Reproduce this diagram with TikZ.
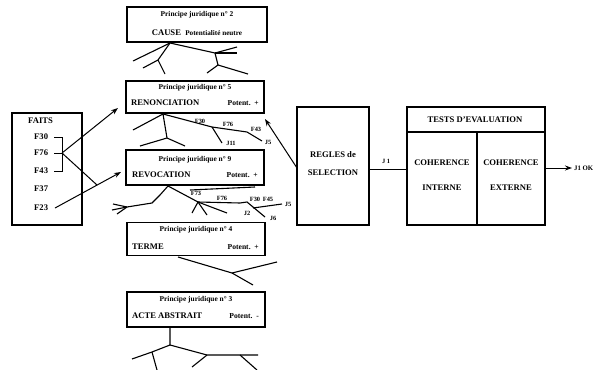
\documentclass[tikz,border=0pt]{standalone}
\usepackage{fontspec}
\setmainfont{Liberation Serif}
\usetikzlibrary{arrows.meta}
\begin{document}
\begin{tikzpicture}[x=1pt,y=-1pt,
 box/.style={draw,line width=1.1pt,inner sep=0pt},
 ttl/.style={font=\fontsize{7.4}{8}\selectfont\bfseries,inner sep=0pt},
 lab/.style={font=\fontsize{8.6}{9}\selectfont\bfseries,inner sep=0pt},
 pot/.style={font=\fontsize{7.6}{8}\selectfont\bfseries,inner sep=0pt},
 sm/.style={font=\fontsize{6.4}{7}\selectfont\bfseries,inner sep=0pt},
 br/.style={line width=1.1pt},
 arr/.style={line width=1pt,-{Stealth[length=7pt,width=5pt]}}]
\useasboundingbox (0,0) rectangle (598,370);

% ---- principle boxes
\node[box,minimum width=140pt,minimum height=35pt] (p2) at (197,24.5) {};
\node[ttl] (p2t) at (197,15) {Principe juridique n° 2};
\node[lab] (p2l) at (197,33) {CAUSE\ \ {\fontsize{7.2}{8}\selectfont Potentialité neutre}};

\node[box,minimum width=138pt,minimum height=32pt] (p5) at (195,97) {};
\node[ttl] (p5t) at (195,88) {Principe juridique n° 5};
\node[lab,anchor=west] (p5l) at (131,103) {RENONCIATION};
\node[pot,anchor=east] (p5r) at (259,103) {Potent.\ \ +};

\node[box,minimum width=138pt,minimum height=35pt] (p9) at (195,167.5) {};
\node[ttl] (p9t) at (195,160) {Principe juridique n° 9};
\node[lab,anchor=west] (p9l) at (132,175) {REVOCATION};
\node[pot,anchor=east] (p9r) at (258,175) {Potent.\ \ +};

\node[box,minimum width=138pt,minimum height=33pt] (p4) at (196,239) {};
\node[ttl] (p4t) at (196,230) {Principe juridique n° 4};
\node[lab,anchor=west] (p4l) at (132,247) {TERME};
\node[pot,anchor=east] (p4r) at (259,247) {Potent.\ \ +};

\node[box,minimum width=138pt,minimum height=35pt] (p3) at (196,309.5) {};
\node[ttl] (p3t) at (196,300) {Principe juridique n° 3};
\node[lab,anchor=west] (p3l) at (132,316) {ACTE ABSTRAIT};
\node[pot,anchor=east] (p3r) at (259,316) {Potent.\ \ -};

% ---- trees
% P2
\draw[br] (170,43) -- (133,61);
\draw[br] (170,43) -- (158,60) -- (143,68);
\draw[br] (158,60) -- (165,74);
\draw[br] (170,43) -- (215,53) -- (237,47);
\draw[br] (215,53) -- (237,53);
\draw[br] (215,53) -- (218,65) -- (207,73);
\draw[br] (218,65) -- (248,74);
% P5
\draw[br] (163,114) -- (133,130);
\draw[br] (163,114) -- (167,138) -- (140,146);
\draw[br] (167,138) -- (185,146);
\draw[br] (163,114) -- (212,127) -- (247,132) -- (262,141);
\draw[br] (212,127) -- (222,143);
\node[sm] (l530) at (200,121) {F30};
\node[sm] (l576) at (228,124.5) {F76};
\node[sm] (l543) at (256,129) {F43};
\node[sm] (l5j5) at (268,142) {J5};
\node[sm] (l5j11) at (231,143) {J11};
% P9
\draw[br] (190,190) -- (255,187);
\draw[br] (168,186) -- (160,195) -- (152,203) -- (127,207) -- (113,204);
\draw[br] (127,207) -- (112,210);
\draw[br] (127,207) -- (117,214);
\draw[br] (168,186) -- (198,202) -- (227,213);
\draw[br] (198,202) -- (192,213);
\draw[br] (198,202) -- (207,215);
\draw[br] (198,202) -- (240,203) -- (247,202) -- (265,217);
\draw[br] (253,208) -- (282,204);
\node[sm] (l973) at (196,193.5) {F73};
\node[sm] (l976) at (222,198) {F76};
\node[sm] (l930) at (255,199) {F30};
\node[sm] (l945) at (268,199) {F45};
\node[sm] (l9j5) at (288,204) {J5};
\node[sm] (l9j2) at (247,213) {J2};
\node[sm] (l9j6) at (273,218) {J6};
% P4
\draw[br] (178,257) -- (232,273) -- (253,285);
\draw[br] (232,273) -- (277,262);
% P3
\draw[br] (170,327) -- (170,345) -- (152,352) -- (132,359);
\draw[br] (152,352) -- (157,370);
\draw[br] (170,345) -- (207,355) -- (258,355);
\draw[br] (207,355) -- (192,367);
\draw[br] (240,355) -- (257,370);

% ---- FAITS
\node[box,minimum width=70pt,minimum height=112pt] (faits) at (47,169) {};
\node[lab,anchor=west] (fl) at (28,121) {FAITS};
\node[lab,anchor=west] (f30) at (34,137) {F30};
\node[lab,anchor=west] (f76) at (34,153) {F76};
\node[lab,anchor=west] (f43) at (34,171) {F43};
\node[lab,anchor=west] (f37) at (34,189) {F37};
\node[lab,anchor=west] (f23) at (34,208) {F23};
\draw[line width=1pt] (54,137) -- (62,137) -- (62,171) -- (54,171);
\draw[line width=1pt] (54,153) -- (62,153);
\coordinate (b) at (62,153);
\coordinate (t1) at (118,108);
\coordinate (t3) at (121,172);
\coordinate (m) at (97,185);
\coordinate (s3) at (55,208);
\draw[arr] (b) -- (t1);
\draw[line width=1pt] (b) -- (m);
\draw[arr] (s3) -- (t3);

% ---- REGLES
\node[box,minimum width=72pt,minimum height=118pt] (rg) at (333,166) {};
\node[lab] (rg1) at (333,155) {REGLES de};
\node[lab] (rg2) at (333,173) {SELECTION};
\coordinate (rgs) at (297,168);
\coordinate (rgt) at (265,119);
\draw[arr] (rgs) -- (rgt);

% ---- TESTS
\node[box,minimum width=138pt,minimum height=118pt] (ts) at (476,166) {};
\draw[line width=1.1pt] (ts.west |- 0,132) -- (ts.east |- 0,132);
\draw[line width=1.1pt] (477,132) -- (477,225);
\node[lab] (tsh) at (475,120) {TESTS D'EVALUATION};
\node[lab] (ci1) at (442,163) {COHERENCE};
\node[lab] (ci2) at (442,188) {INTERNE};
\node[lab] (ce1) at (511,163) {COHERENCE};
\node[lab] (ce2) at (511,188) {EXTERNE};

\coordinate (j1a) at (369,169);
\coordinate (j1b) at (407,169);
\draw[line width=1pt] (j1a) -- (j1b);
\node[sm] (j1) at (386,161) {J 1};

\coordinate (oa) at (545,168);
\coordinate (ob) at (572,168);
\draw[arr] (oa) -- (ob);
\node[font=\fontsize{6.8}{7}\selectfont\bfseries,inner sep=0pt,anchor=west] (ok) at (574,168) {J1 OK};
\end{tikzpicture}
\end{document}
